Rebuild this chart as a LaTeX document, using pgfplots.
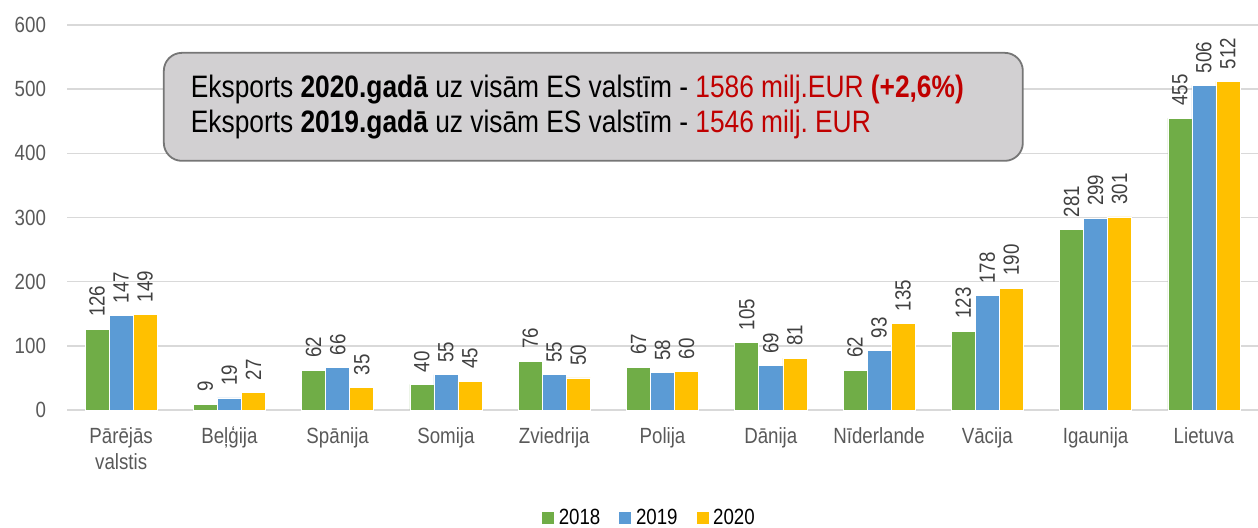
\documentclass[border=0pt]{standalone}
\usepackage{pgfplots}
\pgfplotsset{compat=1.18}
\usepackage{fontspec}
\setmainfont{Liberation Sans}[FakeStretch=0.85]
\frenchspacing
\definecolor{cA}{RGB}{112,173,71}
\definecolor{cB}{RGB}{91,155,213}
\definecolor{cC}{RGB}{255,192,0}
\definecolor{tickgray}{RGB}{89,89,89}
\definecolor{labgray}{RGB}{64,64,64}
\definecolor{gridgray}{RGB}{217,217,217}
\definecolor{boxfill}{RGB}{210,208,210}
\definecolor{boxdraw}{RGB}{118,118,118}
\definecolor{redtxt}{RGB}{192,0,0}

\pgfplotstableread{
x y2018 y2019 y2020
0 126 147 149
1 9 19 27
2 62 66 35
3 40 55 45
4 76 55 50
5 67 58 60
6 105 69 81
7 62 93 135
8 123 178 190
9 281 299 301
10 455 506 512
}\exports

\begin{document}
\begin{tikzpicture}
\useasboundingbox (0,0) rectangle (629pt,-264pt);
\begin{axis}[
  at={(33.5pt,-205pt)}, anchor=south west,
  scale only axis, width=595.5pt, height=192.5pt,
  xmin=-0.5, xmax=10.5, ymin=0, ymax=600,
  ytick={0,100,...,600},
  xtick=data,
  xticklabels={{Pārējās\\valstis},Beļģija,Spānija,Somija,Zviedrija,Polija,Dānija,Nīderlande,Vācija,Igaunija,Lietuva},
  xticklabel style={align=center, font=\fontsize{11}{13}\selectfont, text=tickgray, yshift=-5pt},
  yticklabel style={font=\fontsize{11}{12}\selectfont, text=tickgray, xshift=-7pt},
  /pgf/number format/assume math mode=true,
  major tick length=0pt,
  axis line style={draw=none},
  ymajorgrids, grid style={gridgray, line width=0.75pt},
  ybar=0pt, bar width=0.222,
  clip=false,
  nodes near coords,
  every node near coord/.append style={rotate=90, anchor=west, font=\fontsize{11}{12}\selectfont, text=labgray, inner xsep=6pt, inner ysep=2pt},
  legend style={at={(0.4895,-0.2805)}, anchor=center, draw=none, fill=none,
    legend columns=-1, font=\fontsize{11}{12}\selectfont,
    /tikz/every even column/.append style={column sep=7pt}},
  legend image code/.code={\fill[#1] (0pt,-3pt) rectangle (6.5pt,3.5pt);},
]
\addplot[fill=cA, draw=white, line width=0.3pt] table[x=x, y=y2018] {\exports};
\addlegendentry{2018}
\addplot[fill=cB, draw=white, line width=0.3pt] table[x=x, y=y2019] {\exports};
\addlegendentry{2019}
\addplot[fill=cC, draw=white, line width=0.3pt] table[x=x, y=y2020] {\exports};
\addlegendentry{2020}
\node[anchor=north west, draw=boxdraw, line width=0.9pt, fill=boxfill, rounded corners=9pt,
  minimum width=429.5pt, minimum height=54pt, text width=402.5pt, inner xsep=13.5pt,
  align=left, font=\fontsize{15.5}{17.5}\selectfont]
  at (axis cs:0.386,558)
  {\spaceskip=3.6pt\relax Eksports \textbf{2020.gadā} uz visām ES valstīm - \textcolor{redtxt}{1586 milj.EUR \textbf{(+2,6\%)}}\\
   Eksports \textbf{2019.gadā} uz visām ES valstīm - \textcolor{redtxt}{1546 milj. EUR}};
\end{axis}
\end{tikzpicture}
\end{document}
